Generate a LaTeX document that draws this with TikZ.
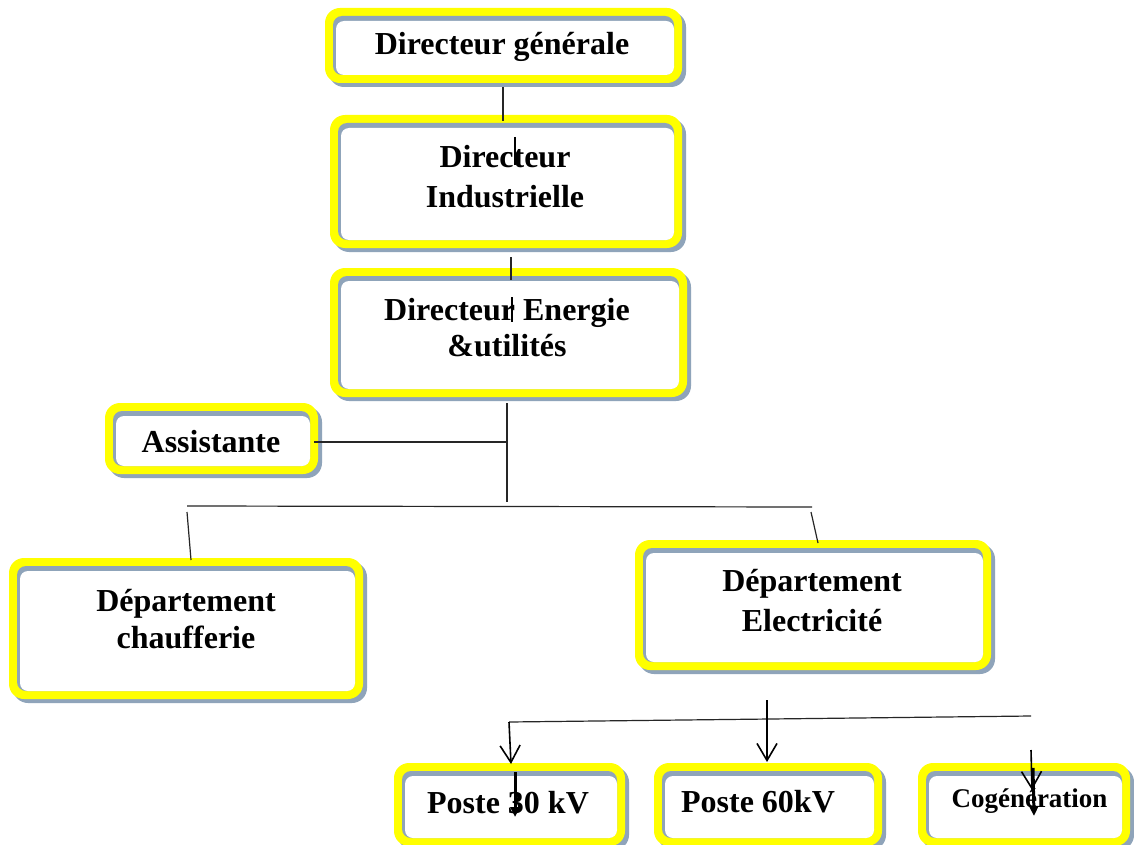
\documentclass[tikz,border=0pt]{standalone}
\usepackage{fontspec}
\setmainfont{Liberation Serif}
\usetikzlibrary{arrows.meta}
\definecolor{boxshadow}{RGB}{143,164,186}
\definecolor{boxyellow}{RGB}{255,255,0}
\newcommand\orgbox[4]{%
  \fill[boxshadow,rounded corners=15pt] (#1+4,#2+4) rectangle (#3+4,#4+4);
  \fill[boxyellow,rounded corners=15pt] (#1,#2) rectangle (#3,#4);
  \fill[boxshadow,rounded corners=9pt] (#1+8,#2+8) rectangle (#3-8,#4-8);
  \fill[white,rounded corners=8pt] (#1+11,#2+13) rectangle (#3-8,#4-8);
}
\begin{document}
\begin{tikzpicture}[x=1pt,y=-1pt,
  txt/.style={font=\bfseries\fontsize{32}{40}\selectfont, align=center, inner sep=0pt},
  conn/.style={line width=1.2pt, black!85},
  bar/.style={line width=2pt, black},
  openarrow/.style={line width=1.6pt, black, -{Straight Barb[length=17pt,width=20pt,line width=1.6pt]}},
  filledarrow/.style={line width=3pt, black, -{Triangle[length=10pt,width=9pt]}}]
\useasboundingbox (0,0) rectangle (1134,845);
\fill[white] (0,0) rectangle (1134,845);

% boxes
\orgbox{325}{8}{682}{83}
\orgbox{330}{115}{682}{248}
\orgbox{330}{268}{687}{397}
\orgbox{105}{403}{318}{474}
\orgbox{9}{558}{363}{699}
\orgbox{635}{540}{991}{670}
\orgbox{394}{763}{625}{846}
\orgbox{654}{763}{882}{846}
\orgbox{918}{763}{1130}{846}

% texts
\node[txt, anchor=base] (dg) at (502,55) {Directeur générale};
\node[txt] (di) at (505,176.5) {Directeur\\Industrielle};
\node[txt, font=\bfseries\fontsize{32}{36}\selectfont] (de) at (507,328) {Directeur Energie\\\&utilités};
\node[txt, anchor=base] (as) at (211,452) {Assistante};
\node[txt, font=\bfseries\fontsize{32}{37}\selectfont] (dc) at (186,619) {Département\\chaufferie};
\node[txt] (dl) at (812,600.5) {Département\\Electricité};
\node[txt, anchor=base] (p30) at (508,813) {Poste 30 kV};
\node[txt, anchor=base] (p60) at (758,812) {Poste 60kV};
\node[txt, anchor=base, font=\bfseries\fontsize{27}{32}\selectfont] (cg) at (1029.5,807) {Cogénération};

% connector coordinates
\coordinate (c1a) at (503,87);   \coordinate (c1b) at (503,121);
\coordinate (c1c) at (515,137);  \coordinate (c1d) at (515,165);
\coordinate (c2a) at (511,257);  \coordinate (c2b) at (511,280);
\coordinate (c2c) at (512,297);  \coordinate (c2d) at (512,322);
\coordinate (c3a) at (507,403);  \coordinate (c3b) at (507,502);
\coordinate (asr) at (314,442);  \coordinate (asj) at (507,442);
\coordinate (hl) at (187,506);   \coordinate (hr) at (812,507);
\coordinate (dca) at (187,512);  \coordinate (dcb) at (191,560);
\coordinate (dla) at (811,512);  \coordinate (dlb) at (818,543);
\coordinate (bl) at (509,722);   \coordinate (br) at (1031,716);
\coordinate (a1) at (511,764);
\coordinate (a2s) at (767,700);  \coordinate (a2) at (767,762);
\coordinate (a3s) at (1031,750); \coordinate (a3) at (1032,790);
\coordinate (b1s) at (515,772);  \coordinate (b1) at (515,817);
\coordinate (b2s) at (1033,768); \coordinate (b2) at (1034,816);

% connectors
\draw[conn] (c1a) -- (c1b);
\draw[bar] (c1c) -- (c1d);
\draw[conn] (c2a) -- (c2b);
\draw[bar] (c2c) -- (c2d);
\draw[conn] (c3a) -- (c3b);
\draw[conn] (asr) -- (asj);
\draw[conn] (hl) -- (hr);
\draw[conn] (dca) -- (dcb);
\draw[conn] (dla) -- (dlb);
\draw[conn] (bl) -- (br);
\draw[openarrow] (bl) -- (a1);
\draw[openarrow] (a2s) -- (a2);
\draw[openarrow] (a3s) -- (a3);
\draw[filledarrow] (b1s) -- (b1);
\draw[filledarrow] (b2s) -- (b2);
\end{tikzpicture}
\end{document}
